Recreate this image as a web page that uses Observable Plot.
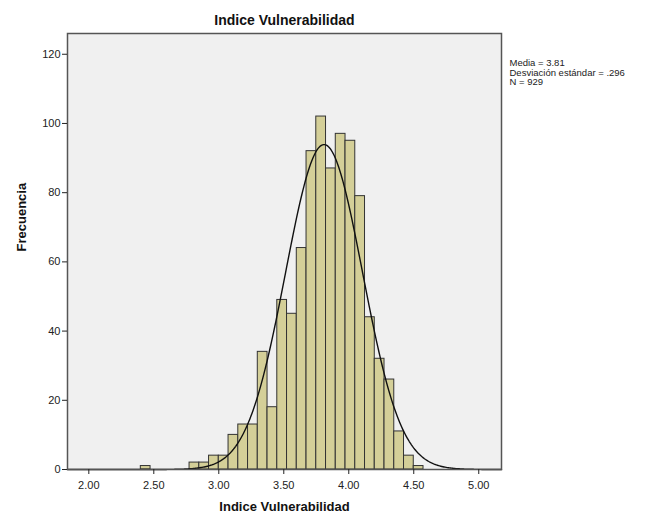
<!DOCTYPE html>
<html><head><meta charset="utf-8">
<script src="https://cdn.jsdelivr.net/npm/d3@7"></script>
<script src="https://cdn.jsdelivr.net/npm/@observablehq/plot@0.6"></script>
<style>body{margin:0;background:#fff;font-family:"Liberation Sans",Arial,sans-serif}</style>
</head><body><div id="chart"></div>
<script>
const binStarts = [2.400, 2.775, 2.850, 2.925, 3.000, 3.075, 3.150, 3.225, 3.300, 3.375, 3.450, 3.525, 3.600, 3.675, 3.750, 3.825, 3.900, 3.975, 4.050, 4.125, 4.200, 4.275, 4.350, 4.425, 4.500];
const counts    = [1, 2, 2, 4, 4, 10, 13, 13, 34, 18, 49, 45, 64, 92, 102, 87, 97, 95, 79, 44, 32, 26, 11, 4, 1];
const binWidth = 0.075;
const xTicks = [2.0, 2.5, 3.0, 3.5, 4.0, 4.5, 5.0];
const yTicks = [0, 20, 40, 60, 80, 100, 120];
const mean = 3.81, sd = 0.296, n = 929;
const title = "Indice Vulnerabilidad";
const xLabel = "Indice Vulnerabilidad";
const yLabel = "Frecuencia";
const statsLines = ["Media = 3.81", "Desviación estándar = .296", "N = 929"];

const xDomain = [1.836, 5.175];
const bars = binStarts.map((b, i) => ({x1: b, x2: b + binWidth, count: counts[i]}));
const curve = d3.range(0, 401).map(i => {
  const x = xDomain[0] + (xDomain[1] - xDomain[0]) * i / 400;
  const y = n * binWidth * Math.exp(-0.5 * ((x - mean) / sd) ** 2) / (sd * Math.sqrt(2 * Math.PI));
  return {x, y};
});

const chart = Plot.plot({
  width: 649, height: 514,
  marginLeft: 67, marginRight: 148, marginTop: 33, marginBottom: 45,
  style: {fontFamily: '"Liberation Sans", Arial, sans-serif', background: "#fff", color: "#222"},
  x: {domain: xDomain},
  y: {domain: [0, 126]},
  marks: [
    Plot.frame({fill: "#f0f0f0"}),
    Plot.rectY(bars, {x1: "x1", x2: "x2", y1: 0, y2: "count", fill: "#d4cf98", stroke: "#333", strokeWidth: 1}),
    Plot.line(curve, {x: "x", y: "y", stroke: "#111", strokeWidth: 1.4}),
    Plot.frame({stroke: "#555", strokeWidth: 1.5}),
    Plot.axisX({ticks: xTicks, tickFormat: d => d.toFixed(2), tickSize: 5, tickPadding: 7, fontSize: 11, label: null}),
    Plot.axisY({ticks: yTicks, tickSize: 5, tickPadding: 2, fontSize: 11, label: null}),
    Plot.text([title], {frameAnchor: "top", dy: -18, text: d => d, fontSize: 14, fontWeight: "bold", fill: "#111"}),
    Plot.text([xLabel], {frameAnchor: "bottom", dy: 41, text: d => d, fontSize: 13, fontWeight: "bold", fill: "#111"}),
    Plot.text([yLabel], {frameAnchor: "left", dx: -46, rotate: -90, text: d => d, fontSize: 13, fontWeight: "bold", fill: "#111"}),
    ...statsLines.map((s, i) => Plot.text([s], {frameAnchor: "top-right", dx: 8, dy: 26 + i * 9.5, text: d => d, textAnchor: "start", fontSize: 9.5, fill: "#222"}))
  ]
});
document.getElementById("chart").appendChild(chart);
</script>
</body></html>
